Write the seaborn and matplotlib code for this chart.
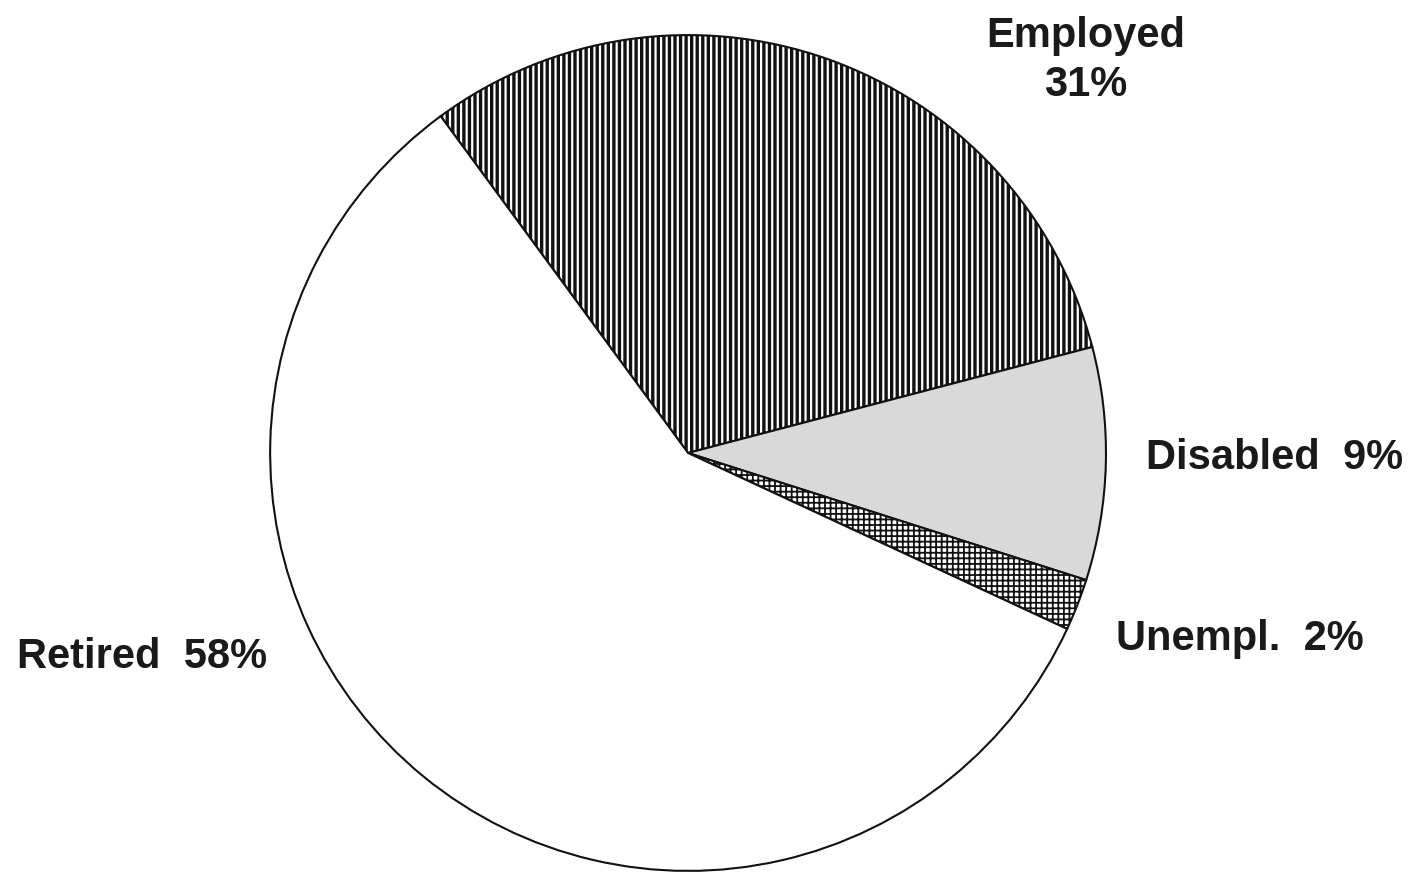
import matplotlib
matplotlib.use("Agg")
import matplotlib.pyplot as plt
import seaborn as sns

sns.set_theme(style="white")
plt.rcParams['font.family'] = ['Liberation Sans', 'DejaVu Sans']
plt.rcParams['hatch.linewidth'] = 2.4

categories = ["Employed", "Disabled", "Unempl.", "Retired"]
values = [31, 9, 2, 58]
label_texts = ["Employed\n31%", "Disabled  9%", "Unempl.  2%", "Retired  58%"]

fig = plt.figure(figsize=(14.13, 8.75), dpi=100)
ax = fig.add_axes([0.1897, 0.0023, 0.5945, 0.96])

wedges, _ = ax.pie(values, startangle=126.3, counterclock=False,
                   colors=["white", "#d9d9d9", "white", "white"],
                   wedgeprops=dict(edgecolor="#111111", linewidth=1.5))
hatches = ["|||", "", "+++", ""]
hatch_lw = [2.4, None, 1.3, None]
for w, h, lw in zip(wedges, hatches, hatch_lw):
    if h:
        w.set_hatch(h)
        if hasattr(w, "set_hatch_linewidth"):
            w.set_hatch_linewidth(lw)

ax.set_xlim(-1.005, 1.005)
ax.set_ylim(-1.005, 1.005)
ax.set_aspect("equal")
ax.axis("off")

pos = [(0.952, 0.94, "center"), (1.095, -0.012, "left"),
       (1.024, -0.445, "left"), (-1.605, -0.488, "left")]
for t, (x, y, ha) in zip(label_texts, pos):
    ax.text(x, y, t, ha=ha, va="center", fontsize=30, fontweight="bold",
            color="#1a1a1a", linespacing=1.3)

fig.savefig("out.png", dpi=100, facecolor="white")
